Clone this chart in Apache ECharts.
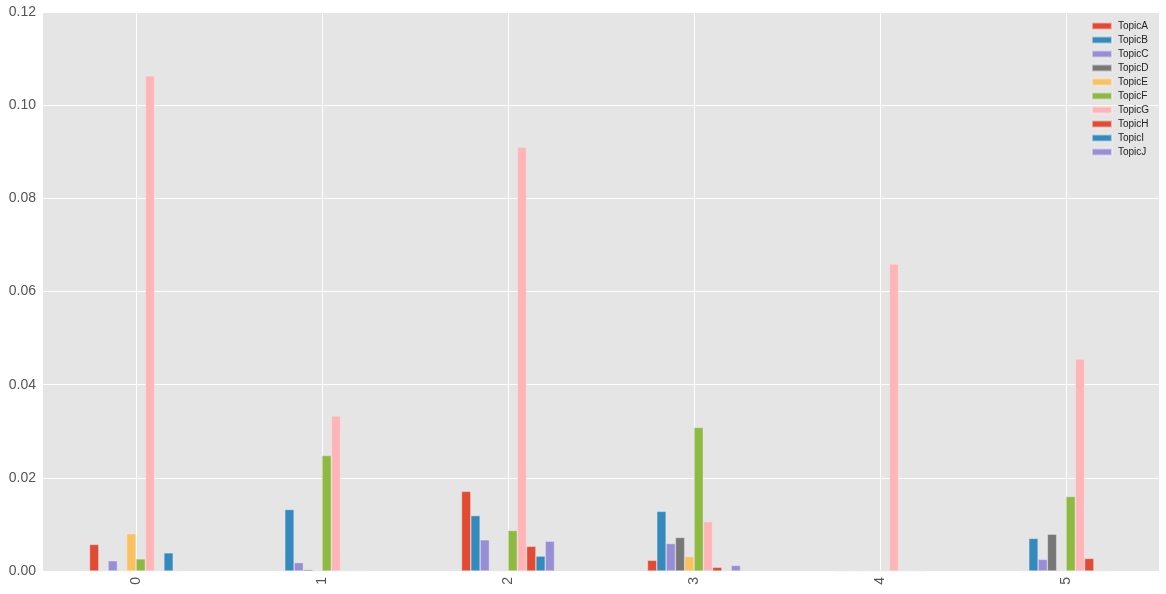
<!DOCTYPE html>
<html>
<head>
<meta charset="utf-8">
<script src="https://cdn.jsdelivr.net/npm/echarts@6/dist/echarts.min.js"></script>
<style>html,body{margin:0;padding:0;background:#fff}#c{width:1166px;height:594px}</style>
</head>
<body>
<div id="c"></div>
<script>
const categories = ['0', '1', '2', '3', '4', '5'];
const topicNames = ['TopicA','TopicB','TopicC','TopicD','TopicE','TopicF','TopicG','TopicH','TopicI','TopicJ'];
const topicA = [0.0057, 0, 0.0171, 0.0023, 0, 0];
const topicB = [0, 0.0132, 0.0119, 0.0128, 0, 0.0070];
const topicC = [0.0022, 0.0018, 0.0067, 0.0059, 0, 0.0025];
const topicD = [0, 0.0003, 0, 0.0072, 0, 0.0079];
const topicE = [0.0080, 0, 0, 0.0031, 0, 0];
const topicF = [0.0026, 0.0248, 0.0087, 0.0308, 0, 0.0160];
const topicG = [0.1063, 0.0333, 0.0910, 0.0106, 0.0659, 0.0455];
const topicH = [0, 0, 0.0053, 0.0008, 0, 0.0027];
const topicI = [0.0039, 0, 0.0032, 0, 0, 0];
const topicJ = [0, 0, 0.0064, 0.0012, 0, 0];
const yTicks = [0, 0.02, 0.04, 0.06, 0.08, 0.10, 0.12];
const colors = ['#E24A33','#348ABD','#988ED5','#777777','#FBC15E','#8EBA42','#FFB5B8','#E24A33','#348ABD','#988ED5'];

const allData = [topicA, topicB, topicC, topicD, topicE, topicF, topicG, topicH, topicI, topicJ];
const chart = echarts.init(document.getElementById('c'));
const font = '"Liberation Sans", Arial, sans-serif';
chart.setOption({
  animation: false,
  backgroundColor: '#ffffff',
  color: colors,
  grid: { left: 43, right: 7, top: 12, bottom: 23, containLabel: false,
          show: true, backgroundColor: '#E5E5E5', borderWidth: 0 },
  legend: {
    orient: 'vertical', right: 12, top: 16,
    itemWidth: 20, itemHeight: 7, itemGap: 4,
    icon: 'rect',
    textStyle: { fontFamily: font, fontSize: 10, color: '#222', padding: [0,0,0,1] },
    data: topicNames
  },
  xAxis: {
    type: 'category', data: categories,
    axisLine: { show: false }, axisTick: { show: false, alignWithLabel: true },
    splitLine: { show: true, alignWithLabel: true, lineStyle: { color: '#ffffff', width: 1 } },
    axisLabel: { rotate: 90, fontFamily: font, fontSize: 14, color: '#555555', margin: 6 }
  },
  yAxis: {
    type: 'value', min: yTicks[0], max: yTicks[yTicks.length - 1], interval: 0.02,
    axisLine: { show: false }, axisTick: { show: false },
    splitLine: { lineStyle: { color: '#ffffff', width: 1 } },
    axisLabel: { fontFamily: font, fontSize: 14, color: '#555555', margin: 7,
                 formatter: v => v.toFixed(2) }
  },
  series: topicNames.map((n, i) => ({
    name: n, type: 'bar', data: allData[i],
    barWidth: 9.3, barGap: '0%',
    itemStyle: { color: colors[i], borderColor: 'rgba(238,238,238,0.6)', borderWidth: 0.6 }
  }))
});
</script>
</body>
</html>
